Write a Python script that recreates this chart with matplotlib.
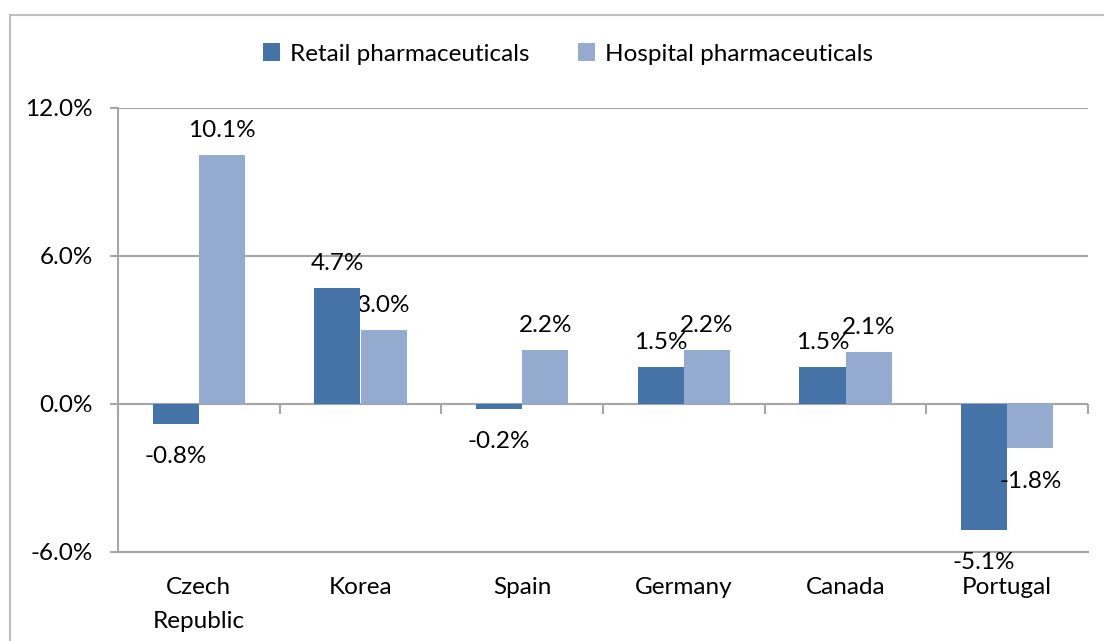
import numpy as np
import matplotlib
matplotlib.use('Agg')
import matplotlib.pyplot as plt
from matplotlib.patches import Rectangle
from matplotlib.ticker import FuncFormatter

countries = ['Czech\nRepublic', 'Korea', 'Spain', 'Germany', 'Canada', 'Portugal']
retail = [-0.8, 4.7, -0.2, 1.5, 1.5, -5.1]
hospital = [10.1, 3.0, 2.2, 2.2, 2.1, -1.8]
series_names = ['Retail pharmaceuticals', 'Hospital pharmaceuticals']

plt.rcParams['font.family'] = ['Lato', 'DejaVu Sans']
plt.rcParams['font.size'] = 17.5

c_retail = '#4573a7'
c_hosp = '#95aacf'
grid_c = '#a6a6a6'

fig = plt.figure(figsize=(11.04, 6.41), dpi=100)
ax = fig.add_axes([118 / 1104, 1 - 552 / 641, (1088 - 118) / 1104, (552 - 108) / 641])

x = np.arange(len(countries))
w = 0.285
b1 = ax.bar(x - w / 2, retail, w, color=c_retail, label=series_names[0], zorder=3)
b2 = ax.bar(x + w / 2, hospital, w, color=c_hosp, label=series_names[1], zorder=2)

# data labels
for bars, vals in [(b1, retail), (b2, hospital)]:
    for rect, v in zip(bars, vals):
        cx = rect.get_x() + rect.get_width() / 2
        if v >= 0:
            ax.annotate(f'{v:.1f}%', (cx, v), xytext=(0, 10), textcoords='offset points',
                        ha='center', va='bottom', zorder=1)
        else:
            ax.annotate(f'{v:.1f}%', (cx, v), xytext=(0, -16), textcoords='offset points',
                        ha='center', va='top', zorder=4)

ax.set_xlim(-0.5, len(countries) - 0.5)
ax.set_ylim(-6, 12)
ax.set_yticks([-6, 0, 6, 12])
ax.yaxis.set_major_formatter(FuncFormatter(lambda v, p: f'{v:.1f}%'))
ax.yaxis.grid(True, color=grid_c, lw=1.5, zorder=0)
ax.set_axisbelow(True)

ax.set_xticks(x)
ax.set_xticklabels(countries, linespacing=1.75)
ax.tick_params(axis='x', length=0, pad=18)
ax.tick_params(axis='y', length=6, width=1.5, color=grid_c, pad=12)

for s in ['top', 'right']:
    ax.spines[s].set_visible(False)
for s in ['left', 'bottom']:
    ax.spines[s].set_color(grid_c)
    ax.spines[s].set_linewidth(1.5)

# zero axis line with category tick marks
ax.axhline(0, color=grid_c, lw=1.5, zorder=1)
sec = ax.secondary_xaxis((0 - (-6)) / (12 - (-6)))
sec.set_xticks(np.arange(len(countries) + 1) - 0.5)
sec.set_xticklabels([])
sec.tick_params(length=7, width=1.5, color=grid_c, direction='out')
sec.spines['bottom'].set_visible(False)

fig.legend(loc='center', bbox_to_anchor=(568 / 1104, 1 - 54 / 641), ncol=2, frameon=False,
           handlelength=0.7, handleheight=0.7, handletextpad=0.4, columnspacing=2.0)

# chart border
fig.patches.append(Rectangle((10 / 1104, -0.1), 2, 1.1 - 15 / 641, transform=fig.transFigure,
                             fill=False, edgecolor='#bfbfbf', lw=1.5, clip_on=False))

fig.savefig('out.png', dpi=100)
